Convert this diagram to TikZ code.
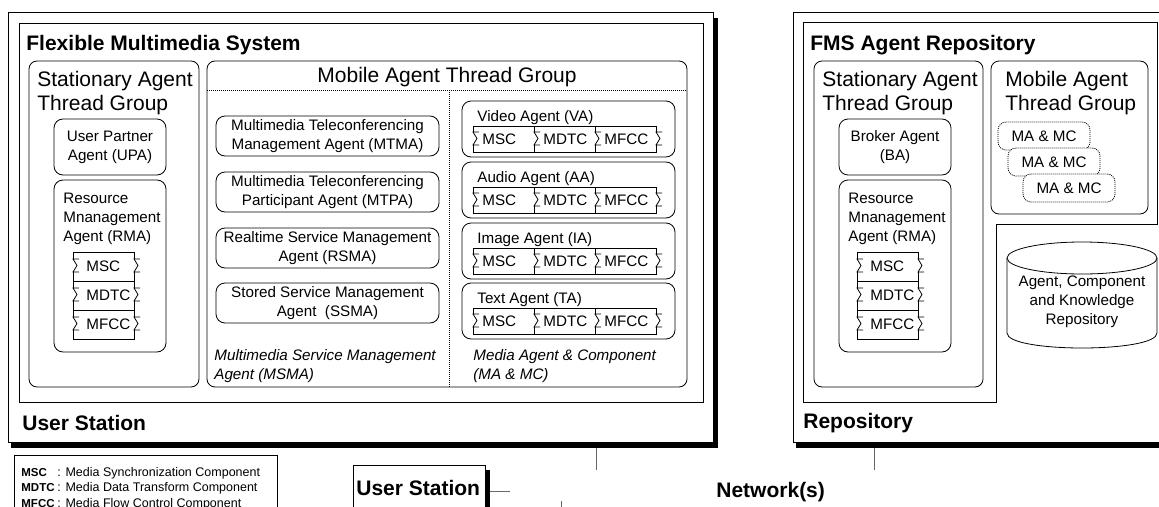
\documentclass[tikz,border=0pt]{standalone}
\usepackage{fontspec}
\setmainfont{Liberation Sans}
\tikzset{
  bigf/.style={font=\fontsize{21}{24}\selectfont},
  bigb/.style={font=\fontsize{21}{24}\selectfont\bfseries},
  smf/.style={font=\fontsize{15.2}{19}\selectfont},
  smi/.style={font=\fontsize{15.2}{19}\selectfont\itshape},
  legf/.style={font=\fontsize{12.5}{15.5}\selectfont},
  grp/.style={draw, rounded corners=8pt},
  agt/.style={draw, rounded corners=9pt},
  dots/.style={dash pattern=on 1pt off 1pt},
  wire/.style={draw=black!60, line width=0.9pt},
}
\newcommand\hook[2]{\draw[white, line width=1.6pt] (#1,#2+1) -- (#1,#2+12);
  \draw (#1+6,#2) -- (#1,#2) -- (#1+4,#2+6.5) -- (#1,#2+13) -- (#1+6,#2+13);}
\newcommand\legkey[1]{\makebox[36pt][l]{\fontsize{11.5}{15.5}\selectfont\bfseries #1}}
\begin{document}
\begin{tikzpicture}[x=1pt,y=-1pt,line width=0.8pt,inner sep=0pt]
\useasboundingbox (0,0) rectangle (1159,506);
\clip (0,0) rectangle (1159,506);

% user station
\fill (11,18) rectangle (718,448);
\draw[fill=white] (8,12) rectangle (713,442);
\draw (19,23) rectangle (703,402);
\node[bigb, anchor=base west] (fms) at (26,50) {Flexible Multimedia System};
\node[bigb, anchor=base west] (us) at (22,430) {User Station};
\coordinate (usb) at (596,448);

\draw[grp] (29,61) rectangle (199,387);
\node[bigf, anchor=north west, align=left] (sat) at (37,70.5) {Stationary Agent\\Thread Group};
\draw[agt] (54,119) rectangle (166,175);
\node[smf, align=center] (upa) at (110,147) {User Partner\\Agent (UPA)};
\draw[agt] (54,180) rectangle (166,352);
\node[smf, anchor=north west, align=left] (rma) at (63,193) {Resource\\Mnanagement\\Agent (RMA)};
\foreach \t/\lab in {252/MSC,281/MDTC,310/MFCC}{
  \draw (73,\t) rectangle +(61,29);
  \hook{73}{\t+7} \hook{134}{\t+7}
  \node[smf, anchor=west] (r\lab) at (86,\t+14.5) {\lab};
}

\draw[grp] (207,61) rectangle (687,387);
\draw[dots] (207,90) -- (687,90);
\draw[dots] (449,90) -- (449,387);
\node[bigf, anchor=base] (mob) at (447,82) {Mobile Agent Thread Group};
\foreach \t/\txt [count=\i] in {116/{Multimedia Teleconferencing\\Management Agent (MTMA)},
    172/{Multimedia Teleconferencing\\Participant Agent (MTPA)},
    228/{Realtime Service Management\\Agent (RSMA)},
    283/{Stored Service Management\\Agent\ \ (SSMA)}}{
  \draw[agt] (216,\t) rectangle (439,\t+40);
  \node[smf, align=center] (ms\i) at (327.5,\t+20) {\txt};
}
\node[smi, anchor=north west, align=left] (msma) at (214,349) {Multimedia Service Management\\Agent (MSMA)};

\foreach \t/\txt [count=\i] in {101/Video Agent (VA),162/Audio Agent (AA),223/Image Agent (IA),283/Text Agent (TA)}{
  \draw[agt] (462,\t) rectangle (675,\t+56);
  \node[smf, anchor=west] (ma\i) at (477,\t+17) {\txt};
  \foreach \lab [count=\j from 0] in {MSC,MDTC,MFCC}{
    \draw (473+61*\j,\t+25) rectangle +(61,26);
    \hook{473+61*\j}{\t+31}
    \node[smf, anchor=west] (ma\i\lab) at (482+61*\j,\t+38) {\lab};
  }
  \hook{656}{\t+31}
}
\node[smi, anchor=north west, align=left] (mamc) at (473,349) {Media Agent \& Component\\(MA \& MC)};

% repository
\fill (796,18) rectangle (1175,448);
\draw[fill=white] (793,12) rectangle (1170,442);
\draw (803,22) -- (1157,22) -- (1157,224) -- (996,224) -- (996,402) -- (803,402) -- cycle;
\node[bigb, anchor=base west] (fmsr) at (810,50) {FMS Agent Repository};
\node[bigb, anchor=base west] (rep) at (803,428) {Repository};
\coordinate (repb) at (874,448);

\draw[grp] (814,61) rectangle (983,387);
\node[bigf, anchor=north west, align=left] (sat2) at (822,70.5) {Stationary Agent\\Thread Group};
\draw[agt] (839,119) rectangle (951,175);
\node[smf, align=center] (ba) at (895,147) {Broker Agent\\(BA)};
\draw[agt] (839,180) rectangle (951,352);
\node[smf, anchor=north west, align=left] (rma2) at (848,193) {Resource\\Mnanagement\\Agent (RMA)};
\foreach \t/\lab in {252/MSC,281/MDTC,310/MFCC}{
  \draw (857,\t) rectangle +(61,29);
  \hook{857}{\t+7} \hook{918}{\t+7}
  \node[smf, anchor=west] (b\lab) at (870,\t+14.5) {\lab};
}

\draw[grp] (991,61) rectangle (1148,214);
\node[bigf, anchor=north west, align=left] (mob2) at (1005,70.5) {Mobile Agent\\Thread Group};
\foreach \x/\y [count=\i] in {998/122,1008/148,1023/174}{
  \draw[dots, rounded corners=8pt, fill=white] (\x,\y) rectangle +(92,28);
  \node[smf] (mc\i) at (\x+46,\y+14) {MA \& MC};
}

\draw (1007,258) -- (1007,333) .. controls (1007,353) and (1157,353) .. (1157,333) -- (1157,258);
\draw[fill=white] (1082,258) ellipse [x radius=75, y radius=16];
\node[smf, align=center] (akr) at (1082,302) {Agent, Component\\and Knowledge\\Repository};

% legend and network
\draw (14,455) rectangle (277,520);
\node[legf, anchor=north west, align=left] (leg) at (21,467) {\legkey{MSC}: Media Synchronization Component\\
  \legkey{MDTC}: Media Data Transform Component\\
  \legkey{MFCC}: Media Flow Control Component};

\fill (357,470) rectangle (490,520);
\draw[fill=white] (353,465) rectangle (485,520);
\node[bigb, anchor=base west] (us2) at (356,495) {User Station};
\coordinate (usr) at (490,491);
\coordinate (nw1) at (510,491);
\draw[wire] (usr) -- (nw1);
\coordinate (nw2) at (561,501);
\coordinate (nw3) at (561,510);
\draw[wire] (nw2) -- (nw3);
\coordinate (usn) at (596,470);
\draw[wire] (usb) -- (usn);
\coordinate (repn) at (874,470);
\draw[wire] (repb) -- (repn);
\node[bigb, anchor=base west] (net) at (716,497) {Network(s)};
\end{tikzpicture}
\end{document}
